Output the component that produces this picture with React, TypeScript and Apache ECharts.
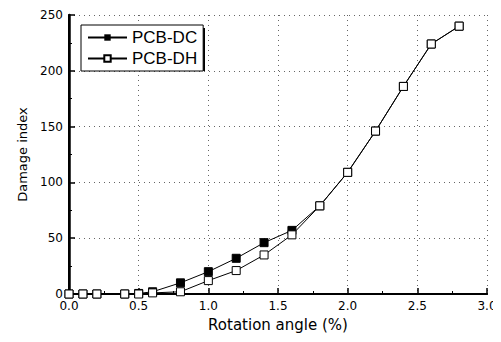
import React, { useEffect, useRef } from "react";
import * as echarts from "echarts";

const xDC = [0, 0.1, 0.2, 0.4, 0.5, 0.6, 0.8, 1.0, 1.2, 1.4, 1.6, 1.8, 2.0, 2.2, 2.4, 2.6, 2.8];
const yDC = [0, 0, 0, 0, 0.5, 2, 10, 20, 32, 46, 57, 79, 109, 146, 186, 224, 240];
const xDH = [0, 0.1, 0.2, 0.4, 0.5, 0.6, 0.8, 1.0, 1.2, 1.4, 1.6, 1.8, 2.0, 2.2, 2.4, 2.6, 2.8];
const yDH = [0, 0, 0, 0, 0, 1, 2, 12, 21, 35, 53, 79, 109, 146, 186, 224, 240];
const seriesNames = ["PCB-DC", "PCB-DH"];

const tickFont = "DejaVu Sans";

export default function App() {
  const ref = useRef<HTMLDivElement>(null);
  useEffect(() => {
    if (!ref.current) return;
    const chart = echarts.init(ref.current, null, { renderer: "svg" });
    const gridLine = { show: true, lineStyle: { color: "#666", type: [1, 4] as any, width: 1 } };
    chart.setOption({
      animation: false,
      backgroundColor: "#fff",
      grid: { left: 69, top: 15, right: 14, bottom: 48 },
      graphic: [
        { type: "rect", shape: { x: 84, y: 28, width: 121, height: 43 }, style: { fill: "#000" }, z: 5 },
      ],
      legend: {
        data: seriesNames,
        orient: "vertical",
        left: 81,
        top: 25,
        padding: [4, 6, 4, 6],
        itemGap: 4,
        itemWidth: 39,
        itemHeight: 8,
        backgroundColor: "#fff",
        borderColor: "#000",
        borderWidth: 1,
        z: 10,
        textStyle: { fontFamily: "Liberation Sans", fontSize: 17, color: "#000", lineHeight: 16 },
      },
      xAxis: [
        {
          type: "value",
          min: 0,
          max: 3,
          interval: 0.5,
          name: "Rotation angle (%)",
          nameLocation: "middle",
          nameGap: 23,
          nameTextStyle: { fontFamily: tickFont, fontSize: 15, color: "#000" },
          axisLine: { show: true, onZero: false, lineStyle: { color: "#000", width: 2 } },
          axisTick: { show: true, inside: true, length: 6, lineStyle: { color: "#000", width: 1.5 } },
          minorTick: { show: true, splitNumber: 2, length: 3, lineStyle: { color: "#000" } },
          axisLabel: {
            fontFamily: tickFont,
            fontSize: 12,
            color: "#000",
            margin: 6,
            formatter: (v: number) => v.toFixed(1),
          },
          splitLine: gridLine,
        },
        {
          type: "value",
          position: "top",
          min: 0,
          max: 3,
          interval: 0.5,
          axisLine: { show: true, lineStyle: { color: "#000", width: 2 } },
          axisTick: { show: false },
          axisLabel: { show: false },
          splitLine: { show: false },
        },
      ],
      yAxis: [
        {
          type: "value",
          min: 0,
          max: 250,
          interval: 50,
          name: "Damage index",
          nameLocation: "middle",
          nameGap: 38,
          nameRotate: 90,
          nameTextStyle: { fontFamily: tickFont, fontSize: 13, color: "#000" },
          axisLine: { show: true, onZero: false, lineStyle: { color: "#000", width: 2 } },
          axisTick: { show: true, inside: true, length: 6, lineStyle: { color: "#000", width: 1.5 } },
          minorTick: { show: true, splitNumber: 2, length: 3, lineStyle: { color: "#000" } },
          axisLabel: { fontFamily: tickFont, fontSize: 12, color: "#000", margin: 6 },
          splitLine: gridLine,
        },
        {
          type: "value",
          position: "right",
          min: 0,
          max: 250,
          interval: 50,
          axisLine: { show: true, lineStyle: { color: "#000", width: 2.5 } },
          axisTick: { show: false },
          axisLabel: { show: false },
          splitLine: { show: false },
        },
      ],
      series: [
        {
          name: seriesNames[0],
          type: "line",
          data: xDC.map((x, i) => [x, yDC[i]]),
          symbol: "rect",
          symbolSize: 8,
          itemStyle: { color: "#000", borderColor: "#000" },
          lineStyle: { color: "#000", width: 1 },
          z: 3,
        },
        {
          name: seriesNames[1],
          type: "line",
          data: xDH.map((x, i) => [x, yDH[i]]),
          symbol: "rect",
          symbolSize: 8,
          itemStyle: { color: "#fff", borderColor: "#000", borderWidth: 1 },
          lineStyle: { color: "#000", width: 1 },
          z: 4,
        },
      ],
    });
    return () => chart.dispose();
  }, []);
  return <div ref={ref} style={{ width: 501, height: 342, margin: -8 }} />;
}
